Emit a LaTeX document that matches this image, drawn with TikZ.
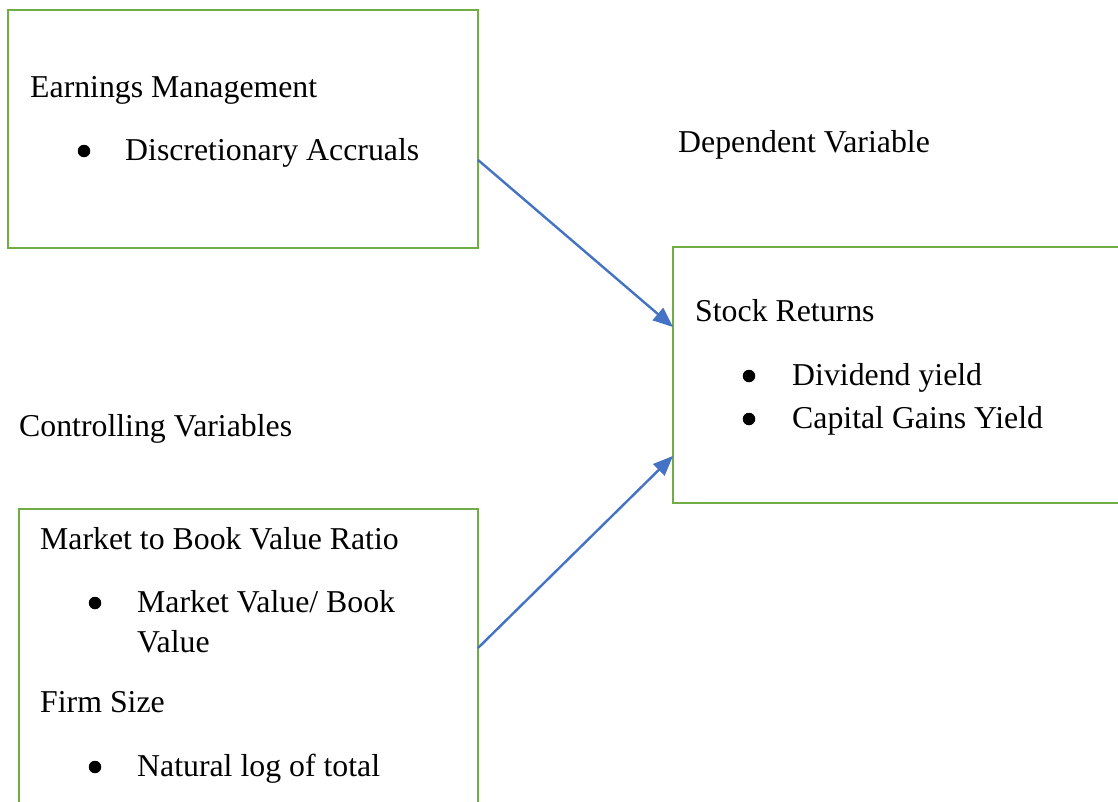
\documentclass[tikz,border=0pt]{standalone}
\usepackage{fontspec}
\setmainfont{Liberation Serif}
\usetikzlibrary{arrows.meta,calc}

\definecolor{boxgreen}{HTML}{70AD47}
\definecolor{arrowblue}{HTML}{4472C4}

\tikzset{
  varbox/.style={draw=boxgreen,line width=2.6pt,rectangle,inner sep=0pt,outer sep=0pt},
  txt/.style={anchor=base west,inner sep=0pt,font=\fontsize{31.8}{38}\selectfont},
  dot/.style={circle,fill=black,inner sep=0pt,minimum size=12.5pt},
  link/.style={arrowblue,line width=2.4pt,-{Triangle[length=20pt,width=16pt]}},
}

\begin{document}
\begin{tikzpicture}[x=1pt,y=-1pt]
        \clip (0,0) rectangle (1118,801);
        \fill[white] (0,0) rectangle (1118,801);
        % the three variable boxes
        \node[varbox,minimum width=470pt,minimum height=238pt] (em) at (243,129) {};
        \node[varbox,minimum width=457pt,minimum height=256pt] (sr) at (901.5,375) {};
        \node[varbox,minimum width=459pt,minimum height=321pt] (ctl) at (248.5,669.5) {};
        % independent variable
        \node[txt] (emhead) at (30,97) {Earnings Management};
        \node[dot] (emdot) at (84,151) {};
        \node[txt] (emitem) at (125,160) {Discretionary Accruals};
        % dependent variable
        \node[txt] (dvlabel) at (678,152) {Dependent Variable};
        \node[txt] (srhead) at (695,321) {Stock Returns};
        \node[dot] (srdot1) at (749,376) {};
        \node[txt] (sritem1) at (792,385) {Dividend yield};
        \node[dot] (srdot2) at (749,419) {};
        \node[txt] (sritem2) at (792,428) {Capital Gains Yield};
        % controlling variables
        \node[txt] (cvlabel) at (19,436) {Controlling Variables};
        \node[txt] (mbhead) at (40,549) {Market to Book Value Ratio};
        \node[dot] (mbdot) at (95,603) {};
        \node[txt] (mbitem) at (137,612) {Market Value/ Book};
        \node[txt] (mbitem2) at (137,652) {Value};
        \node[txt] (fshead) at (40,712) {Firm Size};
        \node[dot] (fsdot) at (95,767) {};
        \node[txt] (fsitem) at (137,776) {Natural log of total};
        % arrows into stock returns
        \draw[link] ($(em.north east)!0.63!(em.south east)$) -- ($(sr.north west)!0.3125!(sr.south west)$);
        \draw[link] ($(ctl.north east)!0.433!(ctl.south east)$) -- ($(sr.north west)!0.816!(sr.south west)$);
    \end{tikzpicture}
\end{document}
